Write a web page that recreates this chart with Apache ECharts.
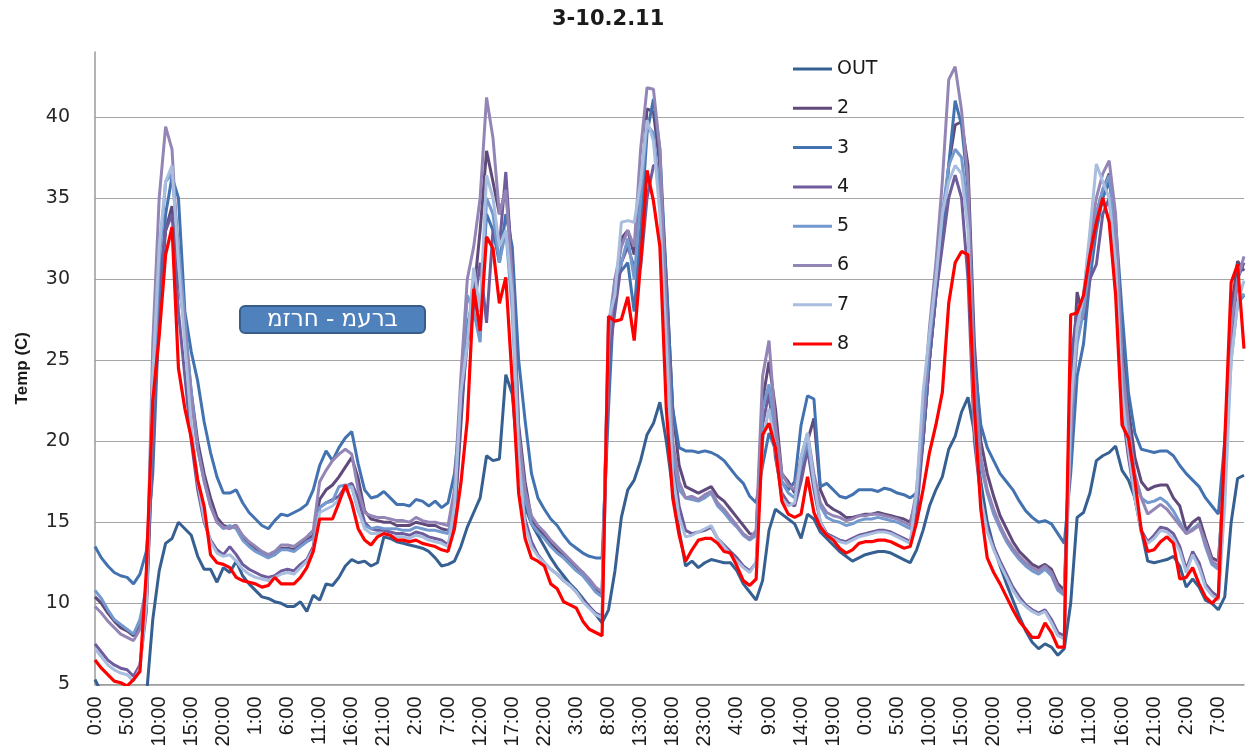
<!DOCTYPE html>
<html>
<head>
<meta charset="utf-8">
<script src="https://cdn.jsdelivr.net/npm/echarts@6/dist/echarts.min.js"></script>
<style>
  html, body { margin: 0; padding: 0; background: #ffffff; }
  #chart { width: 1250px; height: 753px; }
</style>
</head>
<body>
<div id="chart"></div>
<script>
// Hourly readings, 3-10.2.11 (00:00 on the first day onward)
const hours = Array.from({ length: 180 }, (_, i) => (i % 24) + ':00');

const seriesNames = ['OUT', '2', '3', '4', '5', '6', '7', '8'];
const seriesColors = ['#376092', '#604a7b', '#4372b0', '#6f5c9c', '#7399cf', '#9385b5', '#a9bddf', '#ff0000'];
const boxLabel = 'מזרח - מערב';

const tempOut = [
  5.3, 4.5, 4.0, 3.6, 3.3, 3.0, 3.0, 3.3, 4.2, 9.0, 12.0, 13.7, 14.0, 15.0, 14.6, 14.2, 12.9, 12.1, 12.1, 11.3, 12.2, 11.9, 12.6, 11.7,
  11.2, 10.8, 10.4, 10.3, 10.1, 10.0, 9.8, 9.8, 10.1, 9.5, 10.5, 10.2, 11.2, 11.1, 11.6, 12.3, 12.7, 12.5, 12.6, 12.3, 12.5, 14.1, 14.0, 13.8,
  13.7, 13.6, 13.5, 13.4, 13.2, 12.8, 12.3, 12.4, 12.6, 13.5, 14.7, 15.6, 16.5, 19.1, 18.8, 18.9, 24.1, 22.9, 18.5, 16.0, 14.9, 14.2, 13.5, 12.8,
  12.2, 11.7, 11.2, 10.8, 10.3, 9.8, 9.3, 8.8, 9.6, 12.0, 15.3, 17.0, 17.6, 18.8, 20.4, 21.1, 22.4, 20.0, 17.0, 14.5, 12.3, 12.6, 12.2, 12.5,
  12.7, 12.6, 12.5, 12.5, 12.0, 11.2, 10.7, 10.2, 11.4, 14.5, 15.8, 15.5, 15.2, 14.9, 14.0, 15.5, 15.2, 14.4, 14.0, 13.6, 13.2, 12.9, 12.6, 12.8,
  13.0, 13.1, 13.2, 13.2, 13.1, 12.9, 12.7, 12.5, 13.3, 14.5, 16.0, 17.0, 17.8, 19.5, 20.3, 21.8, 22.7, 20.5, 17.5, 15.0, 13.5, 12.3, 11.2, 10.2,
  9.2, 8.3, 7.6, 7.2, 7.5, 7.3, 6.8, 7.2, 10.0, 15.3, 15.6, 16.8, 18.8, 19.1, 19.3, 19.7, 18.2, 17.6, 16.5, 14.5, 12.6, 12.5, 12.6, 12.7,
  12.9, 12.3, 11.0, 11.5, 11.0, 10.2, 10.0, 9.6, 10.4, 15.0, 17.7, 17.9
];

const temp2 = [
  10.4, 10.0, 9.4, 8.9, 8.5, 8.3, 8.0, 8.6, 10.0, 20.0, 28.0, 33.0, 34.5, 30.0, 27.0, 23.0, 20.0, 18.0, 16.5, 15.3, 14.8, 14.7, 14.8, 14.1,
  13.7, 13.4, 13.1, 12.9, 13.0, 13.4, 13.4, 13.3, 13.6, 13.9, 14.2, 16.4, 17.0, 17.3, 17.8, 18.4, 19.0, 17.7, 15.7, 15.2, 15.1, 15.0, 15.0, 14.8,
  14.8, 14.8, 15.0, 14.9, 14.8, 14.8, 14.6, 14.5, 15.0, 21.0, 27.0, 29.0, 33.0, 37.9, 36.0, 34.0, 35.5, 31.2, 21.0, 17.5, 15.2, 14.6, 14.2, 13.7,
  13.3, 13.0, 12.6, 12.2, 11.9, 11.4, 10.9, 10.6, 26.0, 29.0, 32.5, 33.0, 31.5, 35.0, 40.5, 40.3, 37.0, 30.0, 22.0, 18.5, 17.2, 17.0, 16.8, 17.0,
  17.2, 16.6, 16.3, 15.8, 15.3, 14.8, 14.3, 14.2, 22.5, 24.9, 22.0, 18.0, 17.5, 16.8, 18.0, 20.0, 21.4, 17.0, 16.1, 15.8, 15.6, 15.3, 15.3, 15.4,
  15.5, 15.5, 15.6, 15.5, 15.4, 15.3, 15.2, 15.0, 16.5, 20.0, 25.0, 29.0, 33.0, 37.0, 39.5, 39.7, 37.0, 26.0, 20.0, 18.0, 16.6, 15.4, 14.6, 13.8,
  13.2, 12.8, 12.4, 12.2, 12.4, 12.1, 11.2, 10.8, 22.0, 29.2, 27.5, 32.0, 34.0, 35.5, 36.5, 33.0, 26.0, 22.0, 19.0, 17.5, 17.0, 17.2, 17.3, 17.3,
  16.5, 16.0, 14.5, 15.0, 15.3, 14.0, 12.8, 12.6, 18.0, 28.0, 31.1, 30.5
];

const temp3 = [
  13.5, 12.8, 12.3, 11.9, 11.7, 11.6, 11.2, 11.8, 13.2, 18.0, 28.0, 34.0, 36.3, 35.0, 28.0, 25.5, 23.7, 21.2, 19.3, 17.8, 16.8, 16.8, 17.0, 16.2,
  15.6, 15.2, 14.8, 14.6, 15.1, 15.5, 15.4, 15.6, 15.8, 16.1, 17.0, 18.5, 19.4, 18.8, 19.6, 20.2, 20.6, 18.6, 17.0, 16.5, 16.6, 16.9, 16.5, 16.1,
  16.1, 16.0, 16.4, 16.3, 16.0, 16.3, 15.9, 16.2, 18.0, 22.0, 27.0, 29.0, 28.0, 34.0, 33.0, 31.0, 34.0, 32.0, 25.0, 21.3, 18.0, 16.5, 15.8, 15.2,
  14.8, 14.2, 13.7, 13.4, 13.1, 12.9, 12.8, 12.8, 22.0, 30.0, 30.5, 31.0, 28.0, 33.0, 39.0, 41.1, 38.0, 30.0, 22.0, 19.6, 19.4, 19.4, 19.3, 19.4,
  19.3, 19.1, 18.8, 18.3, 17.8, 17.4, 16.6, 16.2, 18.5, 20.5, 19.5, 17.5, 17.0, 17.5, 21.0, 22.8, 22.6, 17.2, 17.4, 17.0, 16.6, 16.5, 16.7, 17.0,
  17.0, 17.0, 16.9, 17.1, 17.0, 16.8, 16.7, 16.5, 16.8, 20.0, 25.0, 29.0, 33.0, 37.0, 41.0, 39.5, 35.6, 25.0, 21.0, 19.6, 18.8, 18.0, 17.5, 17.0,
  16.3, 15.7, 15.3, 15.0, 15.1, 14.9, 14.3, 13.7, 18.0, 24.0, 26.0, 30.0, 33.0, 35.0, 36.0, 33.5, 28.0, 23.0, 20.5, 19.5, 19.4, 19.3, 19.4, 19.4,
  19.1, 18.5, 18.0, 17.6, 17.2, 16.5, 16.0, 15.5, 20.0, 26.0, 28.5, 29.0
];

const temp4 = [
  7.5, 7.0, 6.5, 6.2, 6.0, 5.9, 5.5, 6.2, 9.5, 20.0, 30.0, 33.0, 34.0, 28.0, 24.0, 20.0, 17.0, 15.0, 13.9, 13.3, 13.0, 13.5, 13.0, 12.4,
  12.1, 11.9, 11.7, 11.6, 11.7, 12.0, 12.1, 12.0, 12.4, 12.7, 13.5, 15.9, 16.2, 16.4, 16.6, 17.2, 17.4, 16.5, 15.0, 14.6, 14.5, 14.5, 14.4, 14.3,
  14.3, 14.2, 14.4, 14.3, 14.1, 14.0, 13.9, 13.6, 15.0, 22.0, 26.0, 28.0, 31.0, 27.3, 33.0, 32.0, 36.6, 30.5, 19.0, 15.2, 13.8, 13.0, 12.5, 12.1,
  11.8, 11.4, 11.1, 10.7, 10.2, 9.8, 9.4, 9.2, 25.0, 28.0, 31.0, 32.0, 30.7, 30.7, 35.0, 37.0, 37.0, 29.0, 19.0, 16.0, 14.5, 14.3, 14.4, 14.5,
  14.7, 14.0, 13.6, 13.2, 12.8, 12.3, 12.0, 12.5, 21.0, 23.0, 19.0, 16.8, 16.2, 16.0, 17.5, 19.5, 17.0, 15.0, 14.3, 14.1, 13.9, 13.8, 14.0, 14.2,
  14.3, 14.4, 14.5, 14.5, 14.4, 14.2, 14.0, 13.8, 15.5, 20.0, 25.0, 29.0, 32.0, 35.0, 36.4, 35.0, 30.0, 20.0, 16.5, 14.6, 13.5, 12.6, 11.8, 11.0,
  10.4, 9.9, 9.6, 9.4, 9.6, 9.0, 8.2, 8.0, 25.0, 28.0, 27.5, 30.0, 30.9, 34.0, 35.0, 31.0, 22.0, 19.0, 16.5, 14.5, 13.8, 14.2, 14.7, 14.6,
  14.3, 13.5, 12.1, 13.2, 12.5, 11.2, 10.7, 10.4, 17.0, 26.0, 30.0, 31.0
];

const temp5 = [
  10.8, 10.3, 9.6, 9.0, 8.7, 8.4, 8.1, 9.0, 11.0, 22.0, 31.0, 36.0, 36.5, 32.0, 27.5, 23.0, 19.5, 17.5, 16.0, 15.0, 14.6, 14.8, 14.6, 13.9,
  13.5, 13.2, 13.0, 12.8, 13.0, 13.3, 13.3, 13.2, 13.5, 13.8, 14.0, 15.9, 16.2, 16.3, 17.2, 17.3, 17.2, 15.7, 14.8, 14.6, 14.7, 14.6, 14.6, 14.6,
  14.5, 14.5, 14.7, 14.6, 14.5, 14.5, 14.4, 14.3, 16.0, 23.0, 29.0, 28.0, 26.1, 35.0, 34.0, 31.0, 33.0, 28.0, 19.5, 16.5, 14.9, 14.4, 14.0, 13.5,
  13.1, 12.8, 12.4, 12.0, 11.7, 11.2, 10.7, 10.4, 27.0, 30.0, 31.0, 32.5, 30.0, 35.0, 39.5, 39.0, 35.0, 27.0, 19.5, 17.0, 16.5, 16.4, 16.3, 16.5,
  16.8, 16.0, 15.6, 15.1, 14.7, 14.2, 13.9, 14.2, 22.0, 23.5, 20.5, 17.5, 16.8, 16.5, 18.5, 20.0, 17.5, 16.0, 15.3, 15.1, 15.0, 14.8, 14.9, 15.1,
  15.2, 15.2, 15.3, 15.2, 15.1, 15.0, 14.8, 14.6, 16.5, 21.0, 26.0, 30.0, 34.0, 37.0, 38.0, 37.5, 34.0, 23.0, 18.5, 16.8, 15.5, 14.6, 13.8, 13.2,
  12.7, 12.3, 12.0, 11.8, 12.1, 11.7, 10.8, 10.5, 21.0, 26.0, 28.0, 31.0, 34.0, 35.5, 36.4, 33.0, 24.0, 20.0, 17.8, 16.5, 16.2, 16.3, 16.5, 16.2,
  15.7, 15.0, 14.3, 14.6, 14.9, 13.5, 12.4, 12.1, 18.0, 25.0, 28.5, 29.1
];

const temp6 = [
  9.8, 9.4, 8.9, 8.5, 8.1, 7.9, 7.7, 8.4, 10.0, 26.0, 35.0, 39.4, 38.0, 31.0, 27.0, 22.5, 19.5, 17.6, 16.0, 15.0, 14.7, 14.6, 14.8, 14.2,
  13.8, 13.5, 13.2, 13.0, 13.2, 13.6, 13.6, 13.5, 13.8, 14.1, 14.5, 17.5, 18.2, 18.8, 19.2, 19.5, 19.2, 17.0, 15.6, 15.4, 15.3, 15.3, 15.2, 15.1,
  15.1, 15.0, 15.3, 15.1, 15.0, 15.0, 14.9, 14.8, 17.0, 24.0, 30.0, 32.0, 35.0, 41.2, 38.7, 34.0, 35.5, 30.0, 20.5, 17.0, 15.4, 14.8, 14.4, 13.9,
  13.5, 13.1, 12.7, 12.3, 11.9, 11.5, 11.0, 10.7, 26.0, 30.0, 32.0, 33.0, 32.0, 38.0, 41.8, 41.7, 38.0, 28.0, 20.0, 17.5, 16.5, 16.6, 16.4, 16.7,
  16.9, 16.2, 15.8, 15.3, 14.8, 14.3, 14.0, 14.5, 24.0, 26.2, 21.0, 18.0, 17.3, 17.0, 19.0, 20.5, 18.0, 16.2, 15.6, 15.4, 15.3, 15.1, 15.2, 15.4,
  15.4, 15.5, 15.5, 15.4, 15.3, 15.2, 15.0, 14.8, 17.0, 22.0, 27.0, 31.0, 36.0, 42.3, 43.1, 40.4, 36.0, 24.0, 19.0, 17.0, 15.8, 14.8, 14.0, 13.4,
  12.9, 12.5, 12.2, 12.0, 12.3, 11.9, 11.0, 10.6, 20.0, 27.0, 29.0, 32.5, 35.0, 36.5, 37.3, 34.0, 25.0, 21.0, 18.0, 16.5, 15.5, 15.8, 16.1, 15.8,
  15.3, 14.8, 14.3, 14.5, 14.8, 13.8, 12.6, 12.3, 19.0, 27.0, 30.0, 31.4
];

const temp7 = [
  7.2, 6.7, 6.2, 5.9, 5.7, 5.6, 5.2, 6.0, 10.0, 24.0, 32.0, 36.0, 37.0, 31.0, 26.0, 21.0, 17.5, 15.2, 13.8, 13.1, 12.9, 13.0, 12.6, 12.1,
  11.8, 11.6, 11.5, 11.4, 11.6, 11.8, 11.9, 11.8, 12.2, 12.6, 13.3, 15.6, 15.8, 16.0, 16.4, 17.0, 17.2, 15.8, 14.6, 14.3, 14.3, 14.3, 14.2, 14.1,
  14.1, 14.0, 14.2, 14.1, 13.9, 13.8, 13.7, 13.5, 16.0, 23.0, 26.0, 30.7, 28.0, 36.4, 35.0, 32.0, 33.0, 29.0, 19.0, 14.8, 13.5, 12.9, 12.5, 12.1,
  11.8, 11.4, 11.1, 10.7, 10.1, 9.7, 9.3, 9.1, 27.5, 29.0, 33.5, 33.6, 33.5, 36.0, 39.8, 38.5, 34.0, 26.0, 18.0, 15.3, 14.1, 14.2, 14.4, 14.6,
  14.8, 14.0, 13.5, 13.0, 12.6, 12.2, 11.9, 12.5, 20.0, 22.0, 19.5, 16.5, 16.0, 16.2, 19.0, 20.5, 17.5, 15.0, 14.2, 14.0, 13.8, 13.7, 13.9, 14.1,
  14.2, 14.3, 14.4, 14.4, 14.3, 14.1, 13.9, 13.7, 17.0, 23.0, 26.6, 30.0, 34.0, 36.0, 37.0, 36.5, 33.0, 21.0, 16.5, 14.4, 13.3, 12.4, 11.6, 10.8,
  10.2, 9.8, 9.5, 9.3, 9.5, 8.8, 8.0, 7.8, 22.0, 27.0, 29.0, 33.0, 37.1, 36.0, 35.0, 31.0, 23.0, 19.5, 16.5, 14.3, 13.7, 14.0, 14.5, 14.4,
  14.0, 13.2, 11.9, 13.0, 12.2, 11.0, 10.5, 10.2, 16.0, 25.0, 28.5, 29.9
];

const temp8 = [
  6.5, 6.0, 5.6, 5.2, 5.1, 4.9, 5.3, 5.8, 12.0, 22.5, 26.5, 31.5, 33.2, 24.5, 22.0, 20.2, 17.6, 16.0, 13.0, 12.5, 12.4, 12.2, 11.6, 11.4,
  11.3, 11.2, 11.0, 11.1, 11.6, 11.2, 11.2, 11.2, 11.6, 12.2, 13.2, 15.2, 15.2, 15.2, 16.2, 17.3, 16.2, 14.6, 13.9, 13.6, 14.1, 14.3, 14.2, 13.9,
  13.9, 13.8, 13.9, 13.7, 13.6, 13.5, 13.3, 13.2, 14.6, 17.4, 21.3, 29.4, 26.8, 32.6, 31.9, 28.5, 30.1, 23.7, 16.8, 14.0, 12.8, 12.6, 12.3, 11.2,
  10.9, 10.1, 9.9, 9.7, 8.9, 8.4, 8.2, 8.0, 27.7, 27.4, 27.5, 28.9, 26.2, 31.0, 36.7, 34.8, 32.0, 22.0, 16.5, 14.2, 12.6, 13.3, 13.9, 14.0,
  14.0, 13.7, 13.2, 13.1, 12.3, 11.4, 11.1, 11.5, 20.4, 21.1, 19.6, 16.3, 15.5, 15.3, 15.5, 17.8, 15.6, 14.7, 14.2, 13.9, 13.4, 13.1, 13.3, 13.7,
  13.8, 13.8, 13.9, 13.9, 13.8, 13.6, 13.4, 13.5, 15.0, 17.0, 19.3, 21.0, 23.0, 28.5, 31.0, 31.7, 31.5, 22.0, 15.8, 12.8, 11.9, 11.2, 10.4, 9.6,
  8.9, 8.4, 7.9, 7.9, 8.8, 8.2, 7.3, 7.3, 27.8, 27.9, 29.0, 31.5, 33.5, 35.0, 33.5, 29.0, 21.0, 20.2, 17.6, 14.5, 13.2, 13.3, 13.8, 14.1,
  13.7, 11.5, 11.6, 12.2, 11.2, 10.4, 10.0, 10.4, 20.0, 29.8, 30.9, 25.7
];

const seriesValues = [tempOut, temp2, temp3, temp4, temp5, temp6, temp7, temp8];

const chart = echarts.init(document.getElementById('chart'), null, { renderer: 'canvas' });

chart.setOption({
  backgroundColor: '#ffffff',
  animation: false,
  title: {
    text: '3-10.2.11',
    left: 552,
    top: 9,
    padding: 0,
    textStyle: { fontFamily: 'DejaVu Sans', fontWeight: 'bold', fontSize: 21, color: '#1a1a1a' }
  },
  legend: {
    orient: 'vertical',
    left: 788,
    top: 54,
    icon: 'rect',
    itemWidth: 39,
    itemHeight: 3,
    itemGap: 19.3,
    selectedMode: false,
    data: seriesNames,
    textStyle: { fontFamily: 'DejaVu Sans', fontSize: 19, lineHeight: 20, color: '#1a1a1a' }
  },
  grid: {
    left: 95,
    right: 6,
    top: 52,
    bottom: 68.6,
    containLabel: false,
    outerBoundsMode: 'none'
  },
  xAxis: {
    type: 'category',
    data: hours,
    boundaryGap: false,
    axisLine: { show: true, lineStyle: { color: '#9a9a9a', width: 1.5 } },
    axisTick: { show: false },
    axisLabel: {
      interval: 4,
      rotate: 90,
      margin: 12,
      fontFamily: 'Liberation Sans',
      fontSize: 20,
      color: '#1a1a1a',
      hideOverlap: false
    },
    splitLine: { show: false }
  },
  yAxis: {
    type: 'value',
    min: 5,
    max: 44,
    interval: 5,
    name: 'Temp (C)',
    nameLocation: 'middle',
    nameRotate: 90,
    nameGap: 64,
    nameTextStyle: { fontFamily: 'Liberation Sans', fontWeight: 'bold', fontSize: 17, color: '#1a1a1a' },
    axisLine: { show: true, lineStyle: { color: '#9a9a9a', width: 1.5 } },
    axisTick: { show: false },
    axisLabel: {
      margin: 25,
      fontFamily: 'DejaVu Sans',
      fontSize: 19,
      color: '#262626',
      showMaxLabel: false,
      formatter: v => (v % 5 === 0 ? String(v) : '')
    },
    splitLine: { show: true, showMaxLine: false, lineStyle: { color: '#a6a6a6', width: 1.2 } }
  },
  graphic: [{
    type: 'group',
    left: 239,
    top: 305,
    children: [{
      type: 'rect',
      shape: { x: 0, y: 0, width: 185, height: 27, r: 5 },
      style: { fill: '#4f81bd', stroke: '#385d8a', lineWidth: 2 }
    }, {
      type: 'text',
      x: 92.5,
      y: 14,
      style: {
        // left-to-right override keeps the letters in stored order, as on the original sheet
        text: '\u202D' + boxLabel + '\u202C',
        fill: '#ffffff',
        font: '23px "DejaVu Sans"',
        align: 'center',
        verticalAlign: 'middle'
      }
    }]
  }],
  series: seriesNames.map((name, k) => ({
    name: name,
    type: 'line',
    data: seriesValues[k],
    symbol: 'none',
    clip: true,
    color: seriesColors[k],
    lineStyle: { color: seriesColors[k], width: k === 7 ? 3.2 : 3 },
    emphasis: { disabled: true },
    z: 2 + k
  }))
});
</script>
</body>
</html>
